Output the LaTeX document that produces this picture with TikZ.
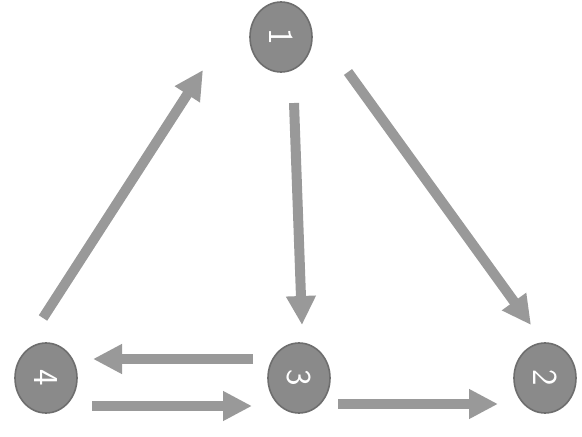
\documentclass[tikz,border=0pt]{standalone}
\usetikzlibrary{arrows.meta,shapes.geometric}
\definecolor{nodegray}{HTML}{8A8A8A}
\definecolor{rimgray}{HTML}{6E6E6E}
\definecolor{arrowgray}{HTML}{999999}

\tikzset{
  % node is turned a quarter, so width and height are swapped
  vertex/.style={ellipse,draw=rimgray,line width=1.6pt,fill=nodegray,
    minimum width=70pt,minimum height=62pt,inner sep=0pt,text=white,
    font=\fontsize{35}{35}\selectfont\sffamily,rotate=-90},
  bigarrow/.style={draw=arrowgray,line width=10pt,
    -{Triangle[length=29pt,width=28pt,fill=arrowgray]}}
}

\begin{document}
\begin{tikzpicture}[x=1pt,y=-1pt]
  \useasboundingbox (0,0) rectangle (582,437);
  \node[vertex] (n1) at (281,37) {1};
  \node[vertex] (n2) at (545,378) {2};
  \node[vertex] (n3) at (299,378) {3};
  \node[vertex] (n4) at (46,378) {4};
  \path
    ([shift={(-3,-60)}]n4.center) edge[bigarrow] ([shift={(-78,33)}]n1.center)
    ([shift={(13,66)}]n1.center) edge[bigarrow] ([shift={(3,-53)}]n3.center)
    ([shift={(67,35)}]n1.center) edge[bigarrow] ([shift={(-14,-53)}]n2.center)
    ([shift={(-46,-19)}]n3.center) edge[bigarrow] ([shift={(47,-19)}]n4.center)
    ([shift={(46,28)}]n4.center) edge[bigarrow] ([shift={(-47,28)}]n3.center)
    ([shift={(39,26)}]n3.center) edge[bigarrow] ([shift={(-47,26)}]n2.center);
\end{tikzpicture}
\end{document}
